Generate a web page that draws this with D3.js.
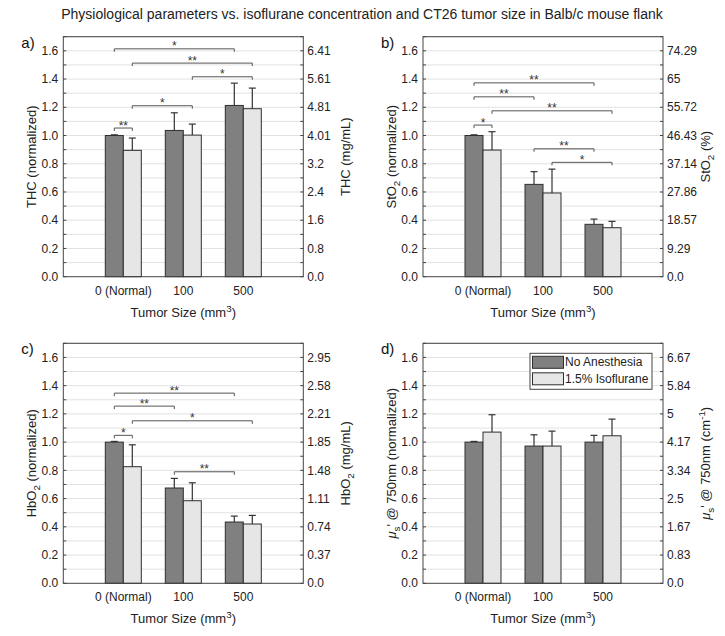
<!DOCTYPE html>
<html><head><meta charset="utf-8">
<script src="https://cdn.jsdelivr.net/npm/d3@7"></script>
<style>body{margin:0;background:#fff}svg{display:block;font-family:"Liberation Sans",Arial,sans-serif}</style>
</head><body>
<svg id="c" width="725" height="636"></svg>
<script>
// ---- data ----
const categories = ["0 (Normal)", "100", "500"];
const seriesNames = ["No Anesthesia", "1.5% Isoflurane"];
const leftTicks = [0, 0.2, 0.4, 0.6, 0.8, 1.0, 1.2, 1.4, 1.6];

const thcNoAnes = [1.0, 1.036, 1.213];
const thcNoAnesErr = [0.005, 0.125, 0.158];
const thcIso = [0.895, 1.003, 1.19];
const thcIsoErr = [0.087, 0.078, 0.146];
const thcRight = ["0.0", "0.8", "1.6", "2.4", "3.2", "4.01", "4.81", "5.61", "6.41"];
const thcSig = [[0,0,2,0,1.614,"*"],[0,1,2,1,1.513,"**"],[1,1,2,1,1.416,"*"],[0,1,1,1,1.211,"*"],[0,0,0,1,1.053,"**"]];

const sto2NoAnes = [1.0, 0.654, 0.371];
const sto2NoAnesErr = [0.005, 0.09, 0.037];
const sto2Iso = [0.897, 0.593, 0.347];
const sto2IsoErr = [0.13, 0.169, 0.045];
const sto2Right = ["0.0", "9.29", "18.57", "27.86", "37.14", "46.43", "55.72", "65", "74.29"];
const sto2Sig = [[0,0,2,0,1.373,"**"],[0,0,1,0,1.274,"**"],[0,1,2,1,1.175,"**"],[0,0,0,1,1.074,"*"],[1,0,2,0,0.906,"**"],[1,1,2,1,0.81,"*"]];

const hbo2NoAnes = [1.0, 0.675, 0.434];
const hbo2NoAnesErr = [0.005, 0.068, 0.042];
const hbo2Iso = [0.826, 0.585, 0.42];
const hbo2IsoErr = [0.155, 0.127, 0.061];
const hbo2Right = ["0.0", "0.37", "0.74", "1.11", "1.48", "1.85", "2.21", "2.58", "2.95"];
const hbo2Sig = [[0,0,2,0,1.347,"**"],[0,0,1,0,1.255,"**"],[0,1,2,1,1.151,"*"],[0,0,0,1,1.048,"*"],[1,0,2,0,0.79,"**"]];

const musNoAnes = [1.0, 0.972, 1.0];
const musNoAnesErr = [0.005, 0.08, 0.048];
const musIso = [1.071, 0.972, 1.045];
const musIsoErr = [0.123, 0.106, 0.118];
const musRight = ["0.0", "0.83", "1.67", "2.5", "3.34", "4.17", "5", "5.84", "6.67"];
const musSig = [];

// ---- drawing ----
const svg = d3.select("#c");
const W = 240, H = 240;
const fills = ["#808080", "#e6e6e6"];
const txt = "#222";

svg.append("text").attr("x", 362).attr("y", 19).attr("text-anchor", "middle")
  .attr("font-size", 14).attr("fill", txt)
  .text("Physiological parameters vs. isoflurane concentration and CT26 tumor size in Balb/c mouse flank");

function addLabel(sel, parts) {
  parts.forEach(p => {
    const t = sel.append("tspan").text(p.t);
    if (p.sub) t.attr("dy", 4).attr("font-size", "0.75em");
    if (p.sup) t.attr("dy", -5).attr("font-size", "0.75em");
    if (p.back) t.attr("dy", p.back);
    if (p.it) t.attr("font-style", "italic");
  });
}

function panel(ox, oy, letter, series, errs, rightLabels, sig, leftTitle, rightTitle, legend) {
  const g = svg.append("g").attr("transform", `translate(${ox},${oy})`);
  const x = d3.scaleLinear().domain([0, 4]).range([0, W]);
  const y = d3.scaleLinear().domain([0, 1.7]).range([H, 0]);
  const bw = 0.3;

  // grid
  const grid = d3.range(1, 18).map(i => i / 10);
  g.append("g").selectAll("line").data(grid).join("line")
    .attr("x1", 0).attr("x2", W).attr("y1", d => y(d)).attr("y2", d => y(d))
    .attr("stroke", "#e2e2e2").attr("stroke-width", 1);

  // bars
  series.forEach((vals, s) => {
    g.append("g").selectAll("rect").data(vals).join("rect")
      .attr("x", (d, i) => x(i + 1 - bw + s * bw))
      .attr("width", x(bw) - x(0))
      .attr("y", d => y(d)).attr("height", d => y(0) - y(d))
      .attr("fill", fills[s]).attr("stroke", "#2e2e2e").attr("stroke-width", 1);
    const eg = g.append("g").attr("stroke", "#333").attr("stroke-width", 1.2);
    vals.forEach((d, i) => {
      const cx = x(i + 1 - bw / 2 + s * bw);
      const top = y(d + errs[s][i]);
      eg.append("line").attr("x1", cx).attr("x2", cx).attr("y1", y(d)).attr("y2", top);
      eg.append("line").attr("x1", cx - 3.5).attr("x2", cx + 3.5).attr("y1", top).attr("y2", top);
    });
  });

  // significance brackets
  const sg = g.append("g");
  sig.forEach(([g1, s1, g2, s2, yv, lab]) => {
    const x1 = x(g1 + 1 - bw / 2 + s1 * bw), x2 = x(g2 + 1 - bw / 2 + s2 * bw), yy = y(yv);
    sg.append("path").attr("d", `M${x1},${yy + 3}V${yy}H${x2}V${yy + 3}`)
      .attr("fill", "none").attr("stroke", "#555").attr("stroke-width", 1);
    sg.append("text").attr("x", (x1 + x2) / 2).attr("y", yy + 1.5).attr("text-anchor", "middle")
      .attr("font-size", 12).attr("fill", "#333").text(lab);
  });

  // frame
  g.append("rect").attr("width", W).attr("height", H).attr("fill", "none")
    .attr("stroke", "#444").attr("stroke-width", 1);

  // axis ticks
  const minor = d3.range(0, 18).map(i => i / 10);
  const tg = g.append("g").attr("stroke", "#444");
  minor.forEach(v => {
    tg.append("line").attr("x1", 0).attr("x2", 3).attr("y1", y(v)).attr("y2", y(v));
    tg.append("line").attr("x1", W - 3).attr("x2", W).attr("y1", y(v)).attr("y2", y(v));
  });

  g.append("g").selectAll("text").data(leftTicks).join("text")
    .attr("x", -5).attr("y", d => y(d)).attr("dy", "0.35em").attr("text-anchor", "end")
    .attr("font-size", 12).attr("fill", txt).text(d => d3.format(".1f")(d));
  g.append("g").selectAll("text").data(leftTicks).join("text")
    .attr("x", W + 4).attr("y", d => y(d)).attr("dy", "0.35em").attr("text-anchor", "start")
    .attr("font-size", 12).attr("fill", txt).text((d, i) => rightLabels[i]);

  g.append("g").selectAll("text").data(categories).join("text")
    .attr("x", (d, i) => x(i + 1)).attr("y", H + 18).attr("text-anchor", "middle")
    .attr("font-size", 12).attr("fill", txt).text(d => d);

  const xt = g.append("text").attr("x", x(2)).attr("y", H + 40).attr("text-anchor", "middle")
    .attr("font-size", 13).attr("fill", txt);
  addLabel(xt, [{t: "Tumor Size (mm"}, {t: "3", sup: true}, {t: ")", back: 5}]);

  const lt = g.append("text").attr("transform", `translate(-27,${H / 2}) rotate(-90)`)
    .attr("text-anchor", "middle").attr("font-size", 13).attr("fill", txt);
  addLabel(lt, leftTitle);
  const rt = g.append("text").attr("transform", `translate(${W + 47},${H / 2}) rotate(-90)`)
    .attr("text-anchor", "middle").attr("font-size", 13).attr("fill", txt);
  addLabel(rt, rightTitle);

  g.append("text").attr("x", -42).attr("y", 11).attr("font-size", 15).attr("fill", "#111").text(letter);

  if (legend) {
    const lg = g.append("g").attr("transform", "translate(107,10)");
    lg.append("rect").attr("width", 122).attr("height", 36).attr("fill", "#fff").attr("stroke", "#444");
    seriesNames.forEach((n, i) => {
      lg.append("rect").attr("x", 2.5).attr("y", 3 + i * 16.5).attr("width", 31).attr("height", 12)
        .attr("fill", fills[i]).attr("stroke", "#2e2e2e");
      lg.append("text").attr("x", 35).attr("y", 9 + i * 16.5).attr("dy", "0.35em")
        .attr("font-size", 12).attr("fill", txt).text(n);
    });
  }
}

panel(63.3, 36.7, "a)", [thcNoAnes, thcIso], [thcNoAnesErr, thcIsoErr], thcRight, thcSig,
  [{t: "THC (normalized)"}], [{t: "THC (mg/mL)"}], false);
panel(423, 36.7, "b)", [sto2NoAnes, sto2Iso], [sto2NoAnesErr, sto2IsoErr], sto2Right, sto2Sig,
  [{t: "StO"}, {t: "2", sub: true}, {t: " (normalized)", back: -4}],
  [{t: "StO"}, {t: "2", sub: true}, {t: " (%)", back: -4}], false);
panel(63.3, 343.3, "c)", [hbo2NoAnes, hbo2Iso], [hbo2NoAnesErr, hbo2IsoErr], hbo2Right, hbo2Sig,
  [{t: "HbO"}, {t: "2", sub: true}, {t: " (normalized)", back: -4}],
  [{t: "HbO"}, {t: "2", sub: true}, {t: " (mg/mL)", back: -4}], false);
panel(423, 343.3, "d)", [musNoAnes, musIso], [musNoAnesErr, musIsoErr], musRight, musSig,
  [{t: "μ", it: true}, {t: "s", sub: true}, {t: "' @ 750nm (normalized)", back: -4}],
  [{t: "μ", it: true}, {t: "s", sub: true}, {t: "' @ 750nm (cm", back: -4}, {t: "-1", sup: true}, {t: ")", back: 5}], true);
</script>
</body></html>
